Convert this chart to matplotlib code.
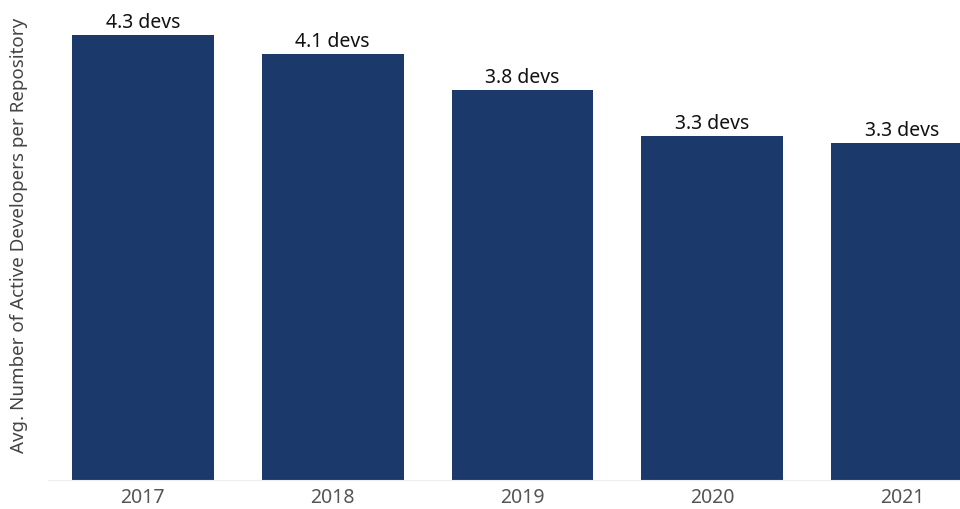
import matplotlib
matplotlib.use("Agg")
import matplotlib.pyplot as plt

years = ["2017", "2018", "2019", "2020", "2021"]
avg_devs = [4.32, 4.14, 3.79, 3.34, 3.27]
labels = ["4.3 devs", "4.1 devs", "3.8 devs", "3.3 devs", "3.3 devs"]

ylabel = "Avg. Number of Active Developers per Repository"
bar_color = "#1b3a6b"


def main():
    plt.rcParams['font.family'] = ['Noto Sans', 'DejaVu Sans']
    fig = plt.figure(figsize=(9.6, 5.1), dpi=100)
    ax = fig.add_axes([48 / 960, 29 / 510, 912 / 960, 481 / 510])

    x = list(range(len(years)))
    ax.bar(x, avg_devs, width=0.747, color=bar_color, zorder=2)
    for xi, v, lab in zip(x, avg_devs, labels):
        ax.annotate(lab, (xi, v), xytext=(0, 2), textcoords="offset points",
                    ha="center", va="bottom", fontsize=14, color="#111111")

    ax.set_xlim(-0.5, 4.305)
    ax.set_ylim(0, 4.67)
    ax.set_xticks(x)
    ax.set_xticklabels(years, fontsize=14, color="#555555")
    ax.tick_params(axis="x", length=0, pad=5)
    ax.set_yticks([])
    for side in ["top", "right", "left"]:
        ax.spines[side].set_visible(False)
    ax.spines["bottom"].set_color("#eeeeee")
    ax.set_ylabel(ylabel, fontsize=13.5, color="#444444")
    ax.yaxis.set_label_coords(-20 / 912, 0.51)

    fig.savefig("out.png", dpi=100)


if __name__ == '__main__':
    main()
